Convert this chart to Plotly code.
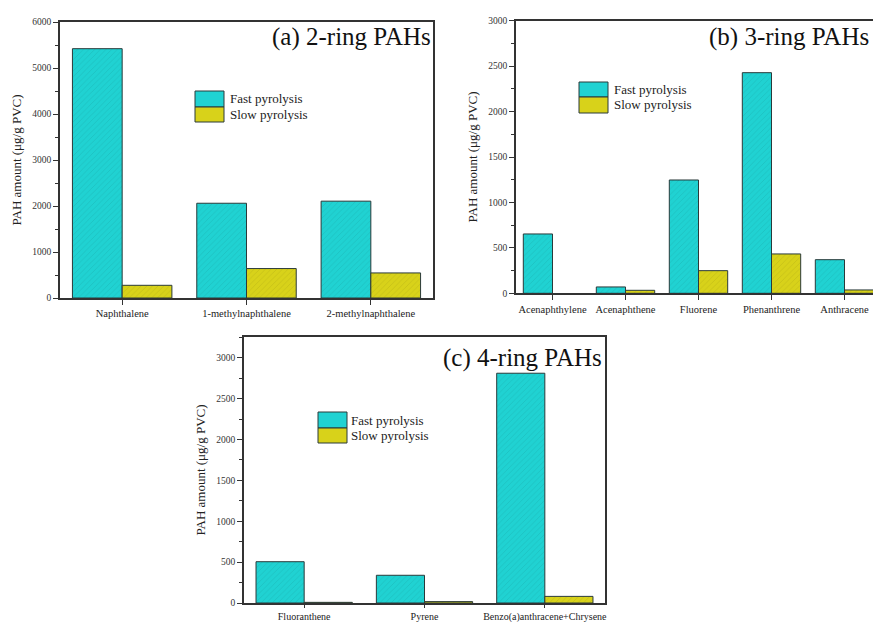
import plotly.graph_objects as go

# ---- data ----
cats_a = ["Naphthalene", "1-methylnaphthalene", "2-methylnaphthalene"]
fast_a = [5420, 2060, 2105]
slow_a = [276, 640, 545]

cats_b = ["Acenaphthylene", "Acenaphthene", "Fluorene", "Phenanthrene", "Anthracene"]
fast_b = [653, 70, 1247, 2428, 370]
slow_b = [None, 33, 249, 433, 37]

cats_c = ["Fluoranthene", "Pyrene", "Benzo(a)anthracene+Chrysene"]
fast_c = [505, 339, 2810]
slow_c = [8, 17, 81]

series_names = ["Fast pyrolysis", "Slow pyrolysis"]
titles = ["(a) 2-ring PAHs", "(b) 3-ring PAHs", "(c) 4-ring PAHs"]
ytitle = "PAH amount (μg/g PVC)"

# ---- style ----
W, H = 873, 622
FAST = "#20D2D2"
SLOW = "#D8D21A"
FONT = "Liberation Serif"
AXC = "#333333"

def px(x):
    return x / W

def py(y):
    return 1 - y / H

fig = go.Figure()

panels = [
    dict(cats=cats_a, fast=fast_a, slow=slow_a, xa="x", ya="y",
         xdom=[px(60), px(433)], ydom=[py(298), py(22)], yr=[0, 6000], dt=1000,
         xr=[-0.5, 2.5], mirror_y=True, xtl=5, xfs=10.5),
    dict(cats=cats_b, fast=fast_b, slow=slow_b, xa="x2", ya="y2",
         xdom=[px(516), 1.0], ydom=[py(293.3), py(20.7)], yr=[0, 3000], dt=500,
         xr=[-0.5, -0.5 + (873 - 516) / 73.0], mirror_y=False, xtl=5, xfs=10.5),
    dict(cats=cats_c, fast=fast_c, slow=slow_c, xa="x3", ya="y3",
         xdom=[px(244), px(605)], ydom=[py(603), py(337)], yr=[0, 3253], dt=500,
         xr=[-0.5, 2.5], mirror_y=True, xtl=3, xfs=10),
]

for i, p in enumerate(panels):
    for name, vals, col in [(series_names[0], p["fast"], FAST), (series_names[1], p["slow"], SLOW)]:
        fig.add_trace(go.Bar(
            x=p["cats"], y=vals, name=name, xaxis=p["xa"], yaxis=p["ya"],
            showlegend=False,
            marker=dict(color=col, line=dict(color="#2a3a3a", width=1),
                        pattern=dict(shape="/", size=4, solidity=0.15,
                                     fgcolor="rgba(0,0,0,0.22)", bgcolor=col)),
        ))
    sfx = "" if i == 0 else str(i + 1)
    fig.update_layout(**{
        "xaxis" + sfx: dict(
            domain=p["xdom"], anchor=p["ya"], type="category", range=p["xr"],
            showline=True, linecolor=AXC, linewidth=1.5, mirror=True,
            ticks="outside", ticklen=p["xtl"], tickcolor=AXC,
            tickfont=dict(family=FONT, size=p["xfs"], color="#222"),
            showgrid=False, zeroline=False, fixedrange=True, automargin=False,
        ),
        "yaxis" + sfx: dict(
            domain=p["ydom"], anchor=p["xa"], range=p["yr"], dtick=p["dt"],
            showline=True, linecolor=AXC, linewidth=1.5,
            mirror=p["mirror_y"],
            ticks="outside", ticklen=5, tickcolor=AXC,
            minor=dict(ticks="outside", ticklen=3, tickcolor=AXC, dtick=p["dt"] / 2),
            tickfont=dict(family=FONT, size=9.5, color="#333"),
            title=dict(text=ytitle, font=dict(family=FONT, size=13, color="#222"), standoff=8),
            showgrid=False, zeroline=False, fixedrange=True, automargin=False,
        ),
    })

shapes = []
annotations = []

# panel titles
TS = 25
annotations.append(dict(text=titles[0], xref="paper", yref="paper", x=px(433), y=py(37),
                        xanchor="right", yanchor="middle", showarrow=False,
                        font=dict(family=FONT, size=TS, color="#111")))
annotations.append(dict(text=titles[1], xref="paper", yref="paper", x=px(871), y=py(37),
                        xanchor="right", yanchor="middle", showarrow=False,
                        font=dict(family=FONT, size=TS, color="#111")))
annotations.append(dict(text=titles[2], xref="paper", yref="paper", x=px(604), y=py(358),
                        xanchor="right", yanchor="middle", showarrow=False,
                        font=dict(family=FONT, size=TS, color="#111")))

# hand-placed legends (large swatches as in the original)
legends = [
    (195, 91, 107, 122, 228),
    (579, 82, 97, 113, 612),
    (318, 412, 428, 443, 349),
]
for (x0, yt, ym, yb, tx) in legends:
    w = 29
    shapes.append(dict(type="rect", xref="paper", yref="paper",
                       x0=px(x0), x1=px(x0 + w), y0=py(ym), y1=py(yt),
                       fillcolor=FAST, line=dict(color="#2a3a3a", width=1)))
    shapes.append(dict(type="rect", xref="paper", yref="paper",
                       x0=px(x0), x1=px(x0 + w), y0=py(yb), y1=py(ym),
                       fillcolor=SLOW, line=dict(color="#2a3a3a", width=1)))
    annotations.append(dict(text=series_names[0], xref="paper", yref="paper",
                            x=px(tx), y=py((yt + ym) / 2), xanchor="left", yanchor="middle",
                            showarrow=False, font=dict(family=FONT, size=13, color="#222")))
    annotations.append(dict(text=series_names[1], xref="paper", yref="paper",
                            x=px(tx), y=py((ym + yb) / 2), xanchor="left", yanchor="middle",
                            showarrow=False, font=dict(family=FONT, size=13, color="#222")))

fig.update_layout(
    width=W, height=H,
    margin=dict(l=0, r=0, t=0, b=0, pad=0),
    paper_bgcolor="white", plot_bgcolor="white",
    barmode="group", bargap=0.2, bargroupgap=0,
    showlegend=False,
    shapes=shapes, annotations=annotations,
    font=dict(family=FONT),
)

fig.write_html("out.html")
